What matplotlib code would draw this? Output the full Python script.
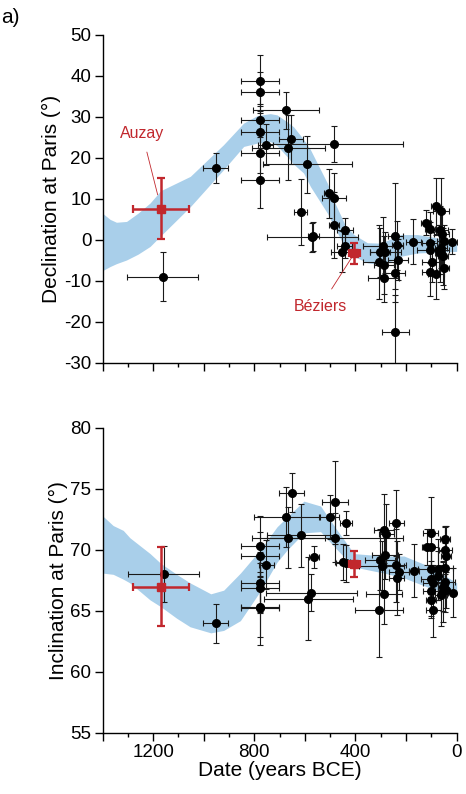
import numpy as np
import matplotlib
matplotlib.use("Agg")
import matplotlib.pyplot as plt
from matplotlib.ticker import MultipleLocator, FuncFormatter

plt.rcParams['font.family'] = ['Liberation Sans', 'DejaVu Sans']
plt.rcParams['axes.unicode_minus'] = False

# --- declination data (years BCE, degrees) ---
dec_year = [1162, 953, 779, 779, 779, 779, 779, 779, 755, 666, 590, 676, 654, 483,
            617, 571, 566, 506, 484, 484, 441, 443, 455, 309, 302, 292, 289, 287,
            282, 243, 243, 243, 231, 234, 172, 122, 107, 107, 107, 107, 98, 82, 82,
            62, 65, 59, 70, 65, 55, 49, 49, 20, 62]
dec_val = [-9.0, 17.5, 38.8, 36.0, 29.2, 26.4, 21.3, 14.7, 23.2, 22.5, 18.4, 31.6,
           24.5, 23.4, 6.8, 0.6, 0.9, 11.4, 10.2, 3.7, 2.3, -1.5, -2.9, -5.4, -3.0,
           -1.5, -9.2, -6.1, -3.0, 1.0, -8.1, -22.5, -4.8, -1.3, -0.4, 4.2, 2.7,
           -0.7, -2.4, -7.8, -5.3, 8.2, -8.4, 7.0, 2.3, 1.5, -2.4, -3.3, -4.0,
           -0.3, -6.9, -0.4, -1.9]
dec_xerr = [140, 50, 75, 75, 75, 75, 75, 75, 30, 145, 176, 130, 48, 269, 25, 180,
            20, 20, 48, 20, 33, 30, 40, 60, 40, 80, 60, 40, 60, 30, 40, 54, 40, 20,
            30, 20, 20, 30, 50, 30, 40, 20, 30, 30, 30, 30, 40, 20, 20, 30, 20, 20, 25]
dec_yerr = [6.0, 3.6, 6.2, 5, 4, 5, 5, 7, 5, 8, 7, 4.5, 6, 4.3, 8, 3.6, 3.5, 6, 6,
            8, 3, 3, 5, 9, 6, 7, 6, 7, 5, 13, 7, 9, 5, 6, 5.5, 3, 4, 5, 5, 6, 5, 7,
            6, 8, 6, 5, 6, 7, 7, 4, 5, 3, 5]

# --- inclination data ---
inc_year = [1158, 952, 777, 777, 777, 777, 777, 777, 752, 674, 652, 665, 615, 564,
            574, 587, 502, 481, 481, 438, 451, 439, 303, 287, 279, 283, 297, 287,
            307, 239, 239, 237, 227, 169, 116, 102, 102, 102, 102, 102, 102, 92, 92,
            75, 75, 45, 45, 41, 45, 45, 55, 55, 62, 14, 41]
inc_val = [68.0, 64.0, 70.3, 69.5, 67.3, 66.9, 65.35, 65.2, 68.8, 72.7, 74.7, 71.0,
           71.2, 69.4, 66.5, 66.0, 72.7, 73.9, 71.0, 72.2, 69.0, 68.9, 69.2, 71.6,
           71.3, 69.6, 68.7, 66.4, 65.1, 72.2, 68.75, 67.7, 68.2, 68.3, 70.25,
           70.25, 71.35, 68.4, 67.6, 66.6, 65.9, 65.1, 67.3, 68.4, 67.9, 70.9, 70.0,
           69.5, 68.55, 67.4, 67.0, 66.6, 66.3, 66.5, 66.7]
inc_xerr = [140, 50, 76, 76, 76, 76, 76, 76, 30, 129, 50, 145, 135, 20, 178, 176,
            38, 50, 270, 25, 30, 40, 60, 40, 30, 50, 90, 70, 95, 30, 40, 30, 40, 20,
            20, 30, 30, 50, 40, 30, 20, 30, 40, 30, 20, 20, 25, 20, 30, 40, 20, 30,
            25, 20, 25]
inc_yerr = [2.3, 1.6, 2.5, 2.0, 2.5, 2.0, 2.5, 3.0, 2.0, 2.5, 1.6, 2.5, 2.6, 0.9,
            1.5, 3.4, 1.8, 3.4, 2.0, 1.0, 1.5, 1.5, 2.5, 3.0, 2.5, 2.0, 2.0, 2.5,
            3.9, 2.7, 3.0, 3.0, 1.5, 2.2, 1.5, 1.5, 3.0, 2.0, 1.5, 2.0, 1.5, 2.2,
            1.5, 2.5, 2.0, 1.0, 2.0, 2.5, 2.0, 2.5, 2.0, 2.5, 2.5, 2.0, 1.5]

# --- new sites (red) ---
site_names = ['Auzay', 'Béziers']
site_year = [1170, 405]
site_year_err = [110, 22]
site_dec = [7.6, -3.3]
site_dec_err = [7.5, 2.6]
site_inc = [67.0, 68.85]
site_inc_err = [3.2, 1.1]

# --- model envelopes ---
band_dec_year = [1400, 1370, 1345, 1305, 1260, 1212, 1170, 1053, 922, 842, 789, 737,
                 710, 670, 645, 605, 578, 511, 485, 440, 406, 353, 300, 250, 221,
                 155, 80, 0]
band_dec_lo = [-7.5, -6.5, -5.8, -4.9, -3.5, -1.6, 1.0, 8.1, 17.1, 22.8, 23.6, 24.0,
               23.0, 20.3, 18.5, 16.3, 13.0, 6.5, 3.3, -2.0, -4.0, -5.6, -6.0, -5.0,
               -4.0, -3.2, -3.0, -2.8]
band_dec_hi = [6.5, 5.0, 4.3, 4.5, 6.5, 9.0, 12.0, 15.5, 23.2, 28.5, 30.3, 30.8,
               30.5, 28.8, 27.6, 24.5, 22.0, 13.8, 9.5, 3.5, 1.3, -0.7, -0.8, 0.5,
               1.3, 1.3, 0.5, -0.6]

band_inc_year = [1400, 1358, 1318, 1292, 1212, 1170, 1107, 1054, 972, 921, 855, 777,
                 710, 670, 604, 538, 472, 406, 287, 208, 102, 0]
band_inc_lo = [68.1, 68.0, 67.6, 67.3, 65.9, 65.35, 64.4, 63.7, 63.2, 63.4, 64.2,
               66.6, 69.0, 70.0, 71.4, 71.5, 70.0, 68.6, 68.1, 67.7, 66.85, 66.3]
band_inc_hi = [72.8, 72.0, 71.6, 71.0, 69.7, 68.9, 68.0, 67.3, 66.4, 66.7, 68.1,
               70.0, 71.9, 72.7, 74.0, 73.6, 71.6, 69.7, 69.5, 69.5, 68.6, 67.3]

band_color = '#a9cfea'
red = '#c1272d'

fig = plt.figure(figsize=(4.66, 7.94), dpi=100)
ax1 = fig.add_axes([0.220, 0.543, 0.760, 0.413])
ax2 = fig.add_axes([0.220, 0.077, 0.760, 0.384])


def style(ax, ylim, ystep):
    ax.set_xlim(1400, 0)
    ax.set_ylim(*ylim)
    for s in ['top', 'right']:
        ax.spines[s].set_visible(False)
    ax.spines['left'].set_linewidth(1.0)
    ax.spines['bottom'].set_linewidth(1.0)
    ax.xaxis.set_major_locator(MultipleLocator(200))
    ax.xaxis.set_minor_locator(MultipleLocator(100))
    ax.yaxis.set_major_locator(MultipleLocator(ystep))
    ax.tick_params(direction='out', length=6, width=1.0, labelsize=13.5, pad=2)
    ax.tick_params(which='minor', direction='out', length=3, width=1.0)
    ax.xaxis.set_major_formatter(FuncFormatter(
        lambda v, p: '%d' % v if int(round(v)) % 400 == 0 else ''))


def draw(ax, bx, blo, bhi, x, y, xe, ye, sy, sye):
    ax.fill_between(bx, blo, bhi, color=band_color, lw=0, zorder=1)
    ax.errorbar(x, y, xerr=xe, yerr=ye, fmt='o', ms=5.5, color='black',
                ecolor='#1a1a1a', elinewidth=0.8, capsize=2.2, capthick=0.8,
                zorder=3)
    ax.errorbar(site_year, sy, xerr=site_year_err, yerr=sye, fmt='s', ms=6,
                color=red, ecolor=red, elinewidth=1.8, capsize=3, capthick=1.6,
                zorder=4)


draw(ax1, band_dec_year, band_dec_lo, band_dec_hi, dec_year, dec_val, dec_xerr,
     dec_yerr, site_dec, site_dec_err)
style(ax1, (-30, 50), 10)
ax1.tick_params(axis='x', labelbottom=False)
ax1.set_ylabel('Declination at Paris (°)', fontsize=15, labelpad=2)

ax1.annotate(site_names[0], xy=(1182, 11.0), xytext=(1243, 25.9),
             color=red, fontsize=11.5, ha='center', va='center',
             arrowprops=dict(arrowstyle='-', color=red, lw=0.6,
                             shrinkA=6, shrinkB=0))
ax1.annotate(site_names[1], xy=(416, -4.4), xytext=(538, -16.2),
             color=red, fontsize=11.5, ha='center', va='center',
             arrowprops=dict(arrowstyle='-', color=red, lw=0.6,
                             shrinkA=6, shrinkB=0))

draw(ax2, band_inc_year, band_inc_lo, band_inc_hi, inc_year, inc_val, inc_xerr,
     inc_yerr, site_inc, site_inc_err)
style(ax2, (55, 80), 5)
ax2.set_ylabel('Inclination at Paris (°)', fontsize=15, labelpad=2)
ax2.set_xlabel('Date (years BCE)', fontsize=15, labelpad=0)

fig.text(0.002, 0.978, 'a)', fontsize=15, ha='left', va='center')

fig.savefig('out.png', dpi=100)
